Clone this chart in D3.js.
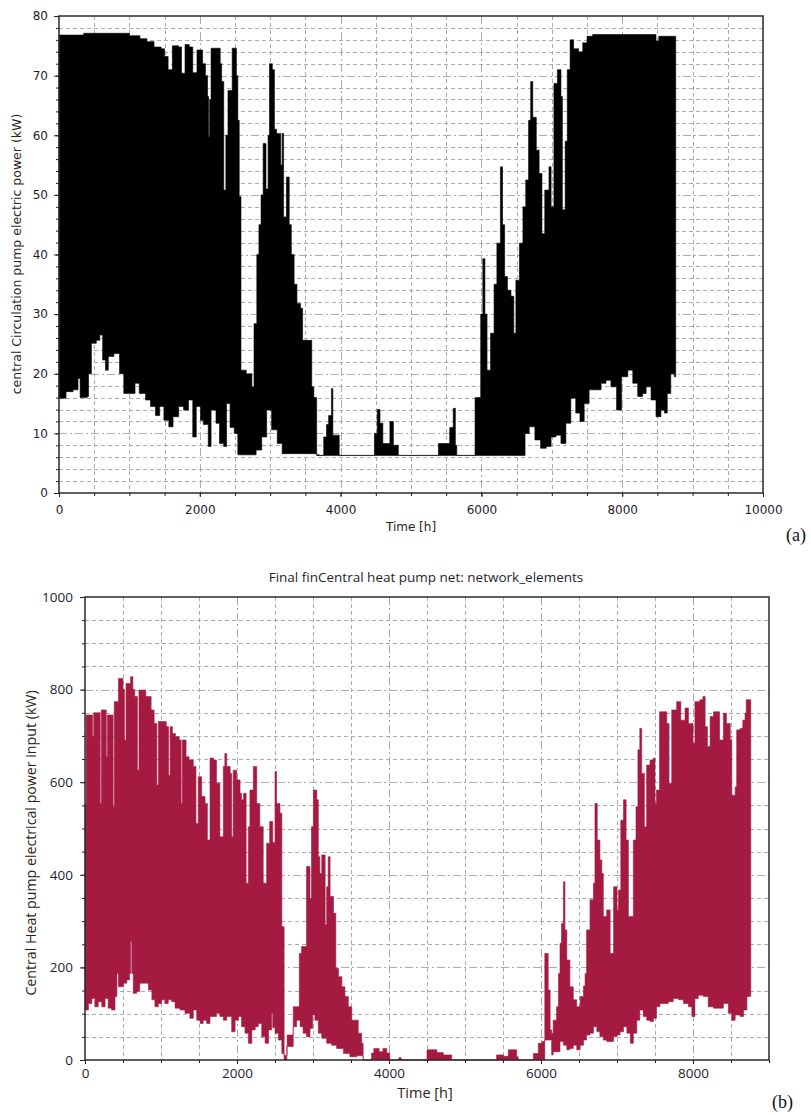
<!DOCTYPE html>
<html>
<head>
<meta charset="utf-8">
<script src="https://cdn.jsdelivr.net/npm/d3@7"></script>
<style>
  body { margin: 0; background: #fff; }
  svg { display: block; }
</style>
</head>
<body>
<svg id="chart" width="811" height="1115"></svg>
<script>
// ---------- Panel (a): central circulation pump electric power (kW) ----------
// Step envelope of the hourly series: upper and lower bounds at breakpoint hours.
const pumpUpperHours = [0,350,1000,1150,1250,1350,1450,1500,1550,1610,1700,1740,1790,1850,1900,1960,2040,2080,2110,2125,2140,2160,2290,2310,2340,2370,2400,2460,2520,2540,2560,2585,2660,2740,2770,2810,2840,2870,2900,2940,2970,2990,3030,3060,3090,3150,3170,3190,3230,3270,3300,3340,3380,3430,3460,3590,3620,3660,3700,3760,3800,3830,3870,3890,3980,4480,4520,4560,4600,4700,4750,4820,5390,5550,5600,5630,5650,5910,5990,6020,6050,6080,6130,6180,6220,6270,6300,6330,6370,6420,6460,6490,6540,6590,6630,6670,6700,6730,6780,6820,6860,6900,6960,6990,7030,7080,7130,7150,7190,7220,7260,7310,7380,7440,7500,7580,8480,8520];
const pumpUpper = [76.8,77.1,76.7,76.2,75.7,74.8,74.5,73.2,71,75,74.8,70.4,75.2,74.8,70.5,74.3,72,70,66.5,59.8,66,74.6,72,69,50.8,60,67.5,74.6,70,62.5,49.7,20.6,20,17.8,28.4,40,45,50,58.6,51,60,72,71,61,60.3,55,60.3,46.3,53,45,40,35,31.8,31,25.6,17.8,16,6.4,6.3,9.4,11.5,13,17.5,9.7,6.3,10,14,11.7,8.3,12,8,6.3,8.3,11,14.2,8,6.3,16,30,39.3,30,20.6,26.8,35,41.9,54.7,45,36.3,34,33,26.8,35.7,41.9,48,52.5,62.5,69,63,57.5,53.6,43.5,50.8,54.7,48,68.7,71,66.5,47.5,59,71,76,74.5,74,75.5,76.6,76.9,75.8,76.6];
const pumpLowerHours = [0,100,200,270,300,400,420,460,530,580,620,660,700,780,860,920,1080,1140,1230,1300,1370,1430,1490,1560,1620,1700,1770,1840,1900,1950,2010,2050,2120,2160,2230,2280,2340,2380,2430,2490,2540,2800,2880,2950,3020,3100,3170,3660,6590,6620,6680,6760,6840,6920,6990,7060,7130,7200,7270,7340,7400,7460,7530,7700,7770,7840,7920,7990,8080,8150,8220,8290,8340,8410,8480,8550,8600,8640,8690,8740];
const pumpLower = [15.9,17,17.3,19.2,16,16.2,20,25.1,25.6,26.5,22.3,20.6,22.9,23.4,20,16.7,18.4,16.7,15.6,14.5,13,14.5,12.2,11.1,12.8,14.5,13.9,15.6,9.4,14.5,12.2,11.5,7.8,13.9,11.7,8.3,7.8,15,11,10,6.4,7.2,9.4,13.9,10.6,8.3,6.6,6.3,6.3,10,11.1,8.9,7.5,7.8,9.4,9.7,8.3,11.7,15.9,13.4,12,15,17.3,18.4,18.9,17.8,13.9,19.5,20.6,18.4,16.2,16.7,17.8,15.6,12.8,13.9,13.4,16.7,20,19.5];
const pumpEndHour = 8760;
const pumpXTicks = [0,2000,4000,6000,8000,10000];
const pumpYTicks = [0,10,20,30,40,50,60,70,80];

// ---------- Panel (b): central heat pump electrical power input (kW) ----------
const hpUpperHours = [0,15,100,115,200,215,280,295,370,385,440,500,520,540,600,630,655,690,710,800,870,910,945,965,1070,1100,1120,1150,1190,1240,1265,1280,1330,1370,1425,1460,1490,1535,1580,1610,1645,1690,1730,1775,1820,1840,1865,1910,1930,1950,1995,2040,2060,2085,2120,2150,2170,2215,2260,2300,2345,2390,2430,2470,2500,2520,2565,2590,2620,2660,2740,2820,2850,2915,2960,2980,3005,3050,3070,3090,3115,3160,3180,3200,3225,3270,3300,3335,3380,3420,3465,3510,3595,3640,3660,3770,3800,3870,3920,3970,4010,4130,4160,4500,4630,4715,4825,5415,5505,5570,5680,5700,5900,5965,6010,6050,6095,6120,6140,6160,6205,6230,6250,6270,6295,6315,6340,6380,6425,6470,6515,6560,6580,6600,6645,6690,6710,6740,6775,6800,6820,6865,6910,6955,7000,7020,7050,7085,7120,7150,7215,7250,7275,7300,7325,7360,7390,7435,7480,7500,7520,7560,7655,7685,7720,7785,7840,7895,7940,8000,8025,8090,8130,8160,8190,8225,8270,8350,8400,8440,8490,8510,8555,8575,8620,8655,8685,8700];
const hpUpper = [552,745,698,750,554,756,655,745,547,774,824,800,691,813,828,800,785,626,799,785,756,727,594,731,720,615,720,705,698,691,554,691,655,648,634,511,612,569,554,475,652,648,598,482,634,662,634,619,482,626,605,576,562,576,382,504,583,634,554,504,382,468,515,470,623,554,533,288,10,54,115,230,245,418,349,504,583,562,439,403,443,292,374,439,353,317,198,180,158,137,115,86,58,36,0,15,25,18,25,15,0,5,0,22,16,11,0,11,8,22,7,0,14,36,40,230,151,65,58,86,115,187,252,295,385,281,216,158,130,115,137,160,187,281,346,382,554,475,432,403,310,324,230,374,324,367,518,562,475,310,475,547,670,716,619,504,637,648,652,554,583,752,727,598,756,774,734,760,727,684,774,778,785,720,677,742,752,691,749,727,691,572,590,713,716,734,749,778];
const hpLowerHours = [0,45,90,130,175,220,265,305,350,395,420,440,505,550,585,600,615,635,680,720,835,880,920,965,1010,1050,1095,1140,1185,1250,1315,1380,1425,1470,1515,1555,1600,1645,1730,1775,1820,1865,1930,1975,2020,2060,2105,2150,2195,2240,2280,2325,2370,2415,2455,2470,2500,2545,2590,2620,2655,2740,2785,2830,2870,2915,2960,2995,3025,3070,3115,3180,3245,3310,3400,3485,3575,3660,6050,6140,6160,6250,6295,6340,6380,6425,6470,6515,6560,6600,6645,6690,6735,6775,6820,6865,6955,7000,7040,7085,7130,7175,7215,7260,7300,7345,7390,7435,7480,7520,7565,7675,7740,7810,7875,7940,7985,8025,8070,8135,8200,8270,8400,8465,8510,8555,8620,8665,8710];
const hpLower = [108,122,133,115,126,115,133,112,108,137,187,158,166,173,187,256,187,144,148,166,151,130,115,122,130,122,130,126,112,108,101,90,108,86,79,86,79,94,101,94,86,94,61,86,94,72,58,36,65,72,79,50,36,65,101,70,58,43,14,0,29,72,86,72,58,50,68,97,86,58,47,36,32,25,14,7,9,0,43,11,18,40,32,22,25,32,22,32,43,54,58,72,61,50,43,40,50,54,61,72,58,36,58,86,108,94,86,83,90,115,122,126,133,130,122,115,94,133,140,137,115,112,122,101,86,97,94,108,137];
const hpEndHour = 8760;
const hpXTicks = [0,2000,4000,6000,8000];
const hpYTicks = [0,200,400,600,800,1000];

const svg = d3.select("#chart");
const crisp = v => Math.round(v) + 0.5;

// Value of a step series at hour h (last breakpoint at or before h).
function stepAt(hours, values, h) {
  const i = d3.bisectRight(hours, h) - 1;
  return values[Math.max(0, i)];
}

// Put the two step envelopes on one common set of breakpoints.
function envelope(uh, uv, lh, lv, end) {
  const hrs = Array.from(new Set([...uh, ...lh, end])).sort((a, b) => a - b);
  return hrs.map(h => ({ h, hi: stepAt(uh, uv, h), lo: stepAt(lh, lv, h) }));
}

function drawPanel(o) {
  const x = d3.scaleLinear().domain(o.xDomain).range([o.left, o.right]);
  const y = d3.scaleLinear().domain(o.yDomain).range([o.bottom, o.top]);
  const g = svg.append("g");

  // grid: dash-dot at labelled ticks, dashed at minor ticks
  const grid = g.append("g").attr("fill", "none").attr("stroke", "#ababab").attr("stroke-width", 1);
  o.xMinor.filter(v => v > o.xDomain[0] && v < o.xDomain[1]).forEach(v => {
    grid.append("line")
      .attr("x1", crisp(x(v))).attr("x2", crisp(x(v)))
      .attr("y1", o.top).attr("y2", o.bottom)
      .attr("stroke-dasharray", o.xMajor.includes(v) ? "8,3,2,3" : "4,3");
  });
  o.yMinor.filter(v => v > o.yDomain[0] && v < o.yDomain[1]).forEach(v => {
    grid.append("line")
      .attr("x1", o.left).attr("x2", o.right)
      .attr("y1", crisp(y(v))).attr("y2", crisp(y(v)))
      .attr("stroke-dasharray", o.yMajor.includes(v) ? "8,3,2,3" : "4,3");
  });

  // series band
  const pts = envelope(o.upperHours, o.upper, o.lowerHours, o.lower, o.endHour);
  const area = d3.area()
    .x(d => x(d.h))
    .y0(d => y(d.lo))
    .y1(d => y(d.hi))
    .curve(d3.curveStepAfter);
  g.append("path").datum(pts)
    .attr("d", area)
    .attr("fill", o.color)
    .attr("stroke", o.color)
    .attr("stroke-width", 0.6);

  // axes
  const styleAxis = sel => {
    sel.select(".domain").remove();
    sel.selectAll(".tick line").attr("stroke", "#222").attr("stroke-width", 1);
    sel.selectAll(".tick text").attr("fill", "#1d1d2b").attr("font-size", o.tickSize).attr("font-family", o.tickFont);
  };
  g.append("g").attr("transform", `translate(0,${o.bottom})`)
    .call(d3.axisBottom(x).tickValues(o.xMinor).tickSize(3).tickFormat(""))
    .call(styleAxis);
  g.append("g").attr("transform", `translate(0,${o.bottom})`)
    .call(d3.axisBottom(x).tickValues(o.xMajor).tickSize(4).tickPadding(o.xPad).tickFormat(d3.format("d")))
    .call(styleAxis);
  g.append("g").attr("transform", `translate(${o.left},0)`)
    .call(d3.axisLeft(y).tickValues(o.yMinor).tickSize(3).tickFormat(""))
    .call(styleAxis);
  g.append("g").attr("transform", `translate(${o.left},0)`)
    .call(d3.axisLeft(y).tickValues(o.yMajor).tickSize(5).tickPadding(o.yPad).tickFormat(d3.format("d")))
    .call(styleAxis);

  // frame
  g.append("rect")
    .attr("x", o.left).attr("y", o.top)
    .attr("width", o.right - o.left).attr("height", o.bottom - o.top)
    .attr("fill", "none").attr("stroke", "#2a2a2a").attr("stroke-width", 1.5);

  return { x, y, g };
}

// Panel (a)
drawPanel({
  left: 59, right: 763, top: 16, bottom: 493,
  xDomain: [0, 10000], yDomain: [0, 80],
  xMajor: pumpXTicks, xMinor: d3.range(0, 10001, 500),
  yMajor: pumpYTicks, yMinor: d3.range(0, 81, 2),
  upperHours: pumpUpperHours, upper: pumpUpper,
  lowerHours: pumpLowerHours, lower: pumpLower,
  endHour: pumpEndHour,
  color: "#000000", xPad: 8, yPad: 6,
  tickFont: "DejaVu Sans, sans-serif", tickSize: 12
});

svg.append("text")
  .attr("transform", "translate(21,254) rotate(-90)")
  .attr("text-anchor", "middle")
  .attr("font-family", "DejaVu Sans, sans-serif").attr("font-size", 12.5)
  .attr("fill", "#2a2418")
  .text("central Circulation pump electric power (kW)");
svg.append("text")
  .attr("x", 411).attr("y", 531)
  .attr("text-anchor", "middle")
  .attr("font-family", "DejaVu Sans, sans-serif").attr("font-size", 12)
  .attr("fill", "#2a2418")
  .text("Time [h]");
svg.append("text")
  .attr("x", 786).attr("y", 541)
  .attr("font-family", "Liberation Serif, serif").attr("font-size", 18)
  .attr("fill", "#111")
  .text("(a)");

// Panel (b)
svg.append("text")
  .attr("x", 426).attr("y", 582)
  .attr("text-anchor", "middle")
  .attr("font-family", "Open Sans, sans-serif").attr("font-size", 13.5)
  .attr("fill", "#1f1f2a")
  .text("Final finCentral heat pump net: network_elements");

drawPanel({
  left: 85, right: 769, top: 597, bottom: 1060,
  xDomain: [0, 9000], yDomain: [0, 1000],
  xMajor: hpXTicks, xMinor: d3.range(0, 9001, 500),
  yMajor: hpYTicks, yMinor: d3.range(0, 1001, 50),
  upperHours: hpUpperHours, upper: hpUpper,
  lowerHours: hpLowerHours, lower: hpLower,
  endHour: hpEndHour,
  color: "#a51a40", xPad: 4, yPad: 7,
  tickFont: "Open Sans, sans-serif", tickSize: 13.5
});

svg.append("text")
  .attr("transform", "translate(36,843) rotate(-90)")
  .attr("text-anchor", "middle")
  .attr("font-family", "Open Sans, sans-serif").attr("font-size", 14.2)
  .attr("fill", "#2a2418")
  .text("Central Heat pump electrical power input (kW)");
svg.append("text")
  .attr("x", 425).attr("y", 1098)
  .attr("text-anchor", "middle")
  .attr("font-family", "Open Sans, sans-serif").attr("font-size", 14.5)
  .attr("fill", "#2a2418")
  .text("Time [h]");
svg.append("text")
  .attr("x", 772).attr("y", 1108)
  .attr("font-family", "Liberation Serif, serif").attr("font-size", 18)
  .attr("fill", "#111")
  .text("(b)");
</script>
</body>
</html>
